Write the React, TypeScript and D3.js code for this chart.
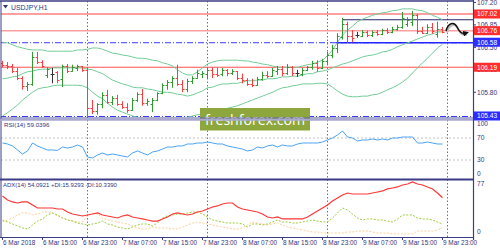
import React from 'react';
import * as d3 from 'd3';

// ---------- DATA (USDJPY H1, first bar = 6 Mar 07:00) ----------
const open = [106.26,106.23,106.21,106.13,106.02,105.90,105.93,106.35,106.27,106.07,
106.09,106.12,106.01,106.21,106.13,106.18,106.21,106.15,105.55,105.51,
105.62,105.76,105.65,105.71,105.62,105.57,105.52,105.68,105.77,105.63,
105.62,105.68,105.79,105.91,105.96,106.02,105.93,105.85,105.98,106.02,
106.09,106.09,106.15,106.09,106.09,106.15,106.10,106.13,106.02,105.99,
105.93,105.91,106.01,106.07,106.05,106.13,106.16,106.10,106.19,106.10,
106.09,106.15,106.19,106.26,106.18,106.29,106.38,106.49,106.66,106.86,
106.68,106.69,106.68,106.74,106.69,106.74,106.71,106.77,106.74,106.79,
106.82,106.86,106.90,107.00,106.76,106.72,106.82,106.71,106.79];
const high = [106.29,106.27,106.24,106.18,106.05,105.96,106.43,106.43,106.30,106.19,
106.18,106.13,106.23,106.24,106.23,106.23,106.21,106.19,105.68,105.63,
105.80,105.84,105.74,105.76,105.66,105.63,105.71,105.80,105.85,105.70,
105.71,105.80,105.94,105.99,106.05,106.23,105.99,106.01,106.05,106.15,
106.13,106.19,106.19,106.18,106.18,106.16,106.16,106.13,106.09,106.02,
106.01,106.04,106.12,106.13,106.18,106.21,106.21,106.24,106.21,106.15,
106.18,106.21,106.29,106.30,106.32,106.43,106.54,106.72,106.96,106.90,
106.77,106.74,106.77,106.76,106.76,106.77,106.79,106.80,106.82,106.85,
107.05,106.97,107.07,107.02,106.82,106.86,106.88,106.90,106.82];
const low = [106.19,106.16,106.10,105.99,105.84,105.82,105.90,106.24,106.18,106.02,
105.94,105.94,105.88,106.10,106.12,106.13,106.12,105.41,105.46,105.45,
105.55,105.62,105.60,105.59,105.54,105.48,105.51,105.65,105.59,105.59,
105.49,105.66,105.77,105.84,105.87,105.90,105.80,105.80,105.93,106.01,
106.02,106.02,106.02,106.04,106.05,106.05,106.07,105.99,105.94,105.90,
105.88,105.90,105.98,106.02,106.04,106.07,106.05,106.07,106.05,106.04,
106.05,106.13,106.15,106.12,106.16,106.24,106.33,106.41,106.62,106.57,
106.58,106.65,106.66,106.66,106.66,106.68,106.69,106.71,106.72,106.76,
106.79,106.82,106.83,106.71,106.71,106.71,106.71,106.65,106.72];
const close = [106.23,106.21,106.13,106.02,105.90,105.93,106.35,106.27,106.21,106.16,
106.09,105.99,106.21,106.13,106.19,106.21,106.15,105.55,105.51,105.62,
105.76,105.65,105.71,105.62,105.57,105.52,105.68,105.77,105.63,105.66,
105.68,105.79,105.91,105.96,106.02,105.93,105.85,105.98,106.02,106.10,
106.10,106.15,106.09,106.07,106.15,106.10,106.13,106.02,105.99,105.93,
105.91,106.01,106.07,106.05,106.15,106.16,106.10,106.19,106.10,106.10,
106.15,106.19,106.26,106.18,106.29,106.38,106.49,106.68,106.86,106.68,
106.65,106.69,106.74,106.69,106.74,106.71,106.77,106.74,106.79,106.82,
106.96,106.93,107.00,106.76,106.72,106.82,106.76,106.79,106.74];

const bbUpper = [106.58,106.57,106.54,106.51,106.49,106.47,106.46,106.46,106.46,106.44,
106.44,106.44,106.44,106.44,106.44,106.46,106.46,106.47,106.49,106.49,
106.47,106.44,106.41,106.40,106.38,106.37,106.35,106.33,106.33,106.32,
106.30,106.29,106.26,106.24,106.21,106.15,106.10,106.07,106.07,106.12,
106.18,106.24,106.27,106.29,106.30,106.30,106.30,106.30,106.29,106.29,
106.27,106.26,106.24,106.23,106.21,106.19,106.19,106.19,106.19,106.19,
106.21,106.23,106.24,106.27,106.30,106.37,106.46,106.58,106.69,106.77,
106.83,106.90,106.94,106.97,107.00,107.02,107.04,107.05,107.07,107.08,
107.10,107.10,107.10,107.08,107.07,107.04,107.00,106.97,106.93];
const bbMiddle = [106.01,106.02,106.04,106.05,106.09,106.12,106.13,106.15,106.16,106.16,
106.18,106.18,106.18,106.18,106.18,106.18,106.18,106.16,106.15,106.12,
106.09,106.04,105.99,105.96,105.93,105.91,105.88,105.87,105.87,105.85,
105.84,105.82,105.80,105.80,105.79,105.77,105.76,105.74,105.76,105.79,
105.82,105.87,105.88,105.91,105.93,105.93,105.94,105.94,105.96,105.98,
105.98,105.99,105.99,106.01,106.01,106.02,106.04,106.04,106.05,106.05,
106.07,106.09,106.09,106.12,106.13,106.15,106.18,106.21,106.24,106.26,
106.29,106.32,106.35,106.37,106.38,106.40,106.43,106.44,106.47,106.51,
106.54,106.57,106.60,106.63,106.66,106.69,106.71,106.74,106.74];
const bbLower = [105.43,105.48,105.54,105.60,105.68,105.74,105.80,105.85,105.87,105.88,
105.90,105.91,105.91,105.91,105.91,105.91,105.90,105.87,105.80,105.74,
105.70,105.63,105.57,105.52,105.49,105.46,105.43,105.41,105.40,105.38,
105.37,105.35,105.35,105.35,105.37,105.38,105.40,105.41,105.43,105.45,
105.46,105.48,105.49,105.52,105.54,105.55,105.57,105.59,105.62,105.65,
105.68,105.71,105.74,105.77,105.80,105.84,105.87,105.88,105.90,105.91,
105.93,105.93,105.93,105.94,105.94,105.93,105.88,105.82,105.77,105.74,
105.73,105.73,105.74,105.74,105.76,105.77,105.80,105.84,105.87,105.91,
105.96,106.02,106.10,106.18,106.26,106.33,106.41,106.49,106.55];

const rsi = [60.9,59.1,55.5,48.2,40.9,46.4,60.9,55.5,51.8,48.2,
48.2,47.5,53.6,51.8,53.6,57.3,53.6,35.5,33.6,39.1,
42.7,39.1,40.9,39.1,37.3,35.5,42.7,46.4,42.7,39.1,
44.5,46.4,50.0,53.6,53.6,55.5,55.5,59.1,59.1,60.9,
60.9,62.7,60.9,59.1,59.1,55.5,53.6,51.8,50.0,46.4,
48.2,53.6,51.8,55.5,57.3,53.6,57.3,55.5,55.5,59.1,
60.9,60.9,60.9,60.9,62.7,66.4,70.0,75.5,82.7,71.8,
70.0,64.5,66.4,66.4,68.2,66.4,68.2,66.4,70.0,70.0,
71.8,71.8,71.8,60.9,60.9,62.7,60.9,59.1,59.04];

const adx = [56.7,50.9,48.0,46.5,48.0,48.0,43.6,39.2,39.2,39.2,
39.2,37.8,37.8,33.4,30.5,29.1,27.6,29.1,30.5,32.0,
29.1,27.6,26.2,24.7,27.6,29.1,26.2,24.7,23.3,21.8,
20.3,20.3,23.3,26.2,30.5,32.0,30.5,29.1,30.5,33.4,
34.9,37.8,40.7,42.2,45.1,46.5,46.5,40.7,37.8,36.3,
34.9,33.4,30.5,26.2,24.7,26.2,23.3,23.3,23.3,23.3,
23.3,26.2,30.5,34.9,39.2,43.6,49.4,53.8,58.1,61.0,
59.6,59.6,59.6,59.6,61.0,62.5,64.0,66.9,68.3,69.8,
72.7,74.1,77.0,74.1,72.7,69.8,66.9,61.0,54.09];
const plusDI = [21.8,18.9,16.0,13.1,10.2,8.7,14.5,20.3,23.3,29.1,
32.0,29.1,24.7,21.8,20.3,17.4,16.0,14.5,16.0,17.4,
20.3,16.0,14.5,11.6,10.2,8.7,11.6,14.5,16.0,16.0,
13.1,17.4,24.7,27.6,29.1,30.5,30.5,32.0,33.4,33.4,
30.5,26.2,21.8,20.3,18.9,17.4,17.4,17.4,16.0,11.6,
16.0,16.0,14.5,16.0,18.9,21.8,18.9,18.9,17.4,17.4,
18.9,20.3,21.8,20.3,18.9,18.9,24.7,32.0,39.2,36.3,
30.5,24.7,21.8,23.3,23.3,21.8,21.8,20.3,18.9,23.3,
29.1,29.1,29.1,24.7,23.3,23.3,21.8,18.9,15.93];
const minusDI = [18.9,21.8,24.7,29.1,32.0,32.0,29.1,30.5,33.4,33.4,
32.0,27.6,24.7,21.8,20.3,18.9,18.9,27.6,32.0,30.5,
24.7,21.8,20.3,18.9,17.4,16.0,13.1,10.2,8.7,8.7,
11.6,10.2,10.2,10.2,8.7,8.7,11.6,14.5,17.4,18.9,
17.4,16.0,14.5,13.1,11.6,10.2,8.7,8.7,10.2,14.5,
18.9,17.4,16.0,14.5,16.0,17.4,14.5,11.6,10.2,8.7,
7.3,5.8,4.4,4.4,2.9,2.9,2.9,2.9,2.9,4.4,
4.4,5.8,5.8,5.8,4.4,2.9,2.9,2.9,1.5,1.5,
1.5,1.5,1.5,5.8,5.8,5.8,5.8,7.3,10.34];

const priceTicks = [107.20, 106.85, 106.50, 106.15, 105.80];
const redLevels = [107.02, 106.76, 106.19];
const blueLevels = [106.58, 105.43];
const rectTop = 106.93;
const rectBottom = 106.58;
const rectStartBar = 68;
const rsiTicks = [100, 70, 30, 0];
const rsiLevels = [70, 30];
const adxTicks = [77, 0];
const timeLabels = ['6 Mar 2018','6 Mar 15:00','6 Mar 23:00','7 Mar 07:00','7 Mar 15:00','7 Mar 23:00','8 Mar 07:00','8 Mar 15:00','8 Mar 23:00','9 Mar 07:00','9 Mar 15:00','9 Mar 23:00'];
const timeLabelBars = [0, 8, 16, 24, 32, 40, 48, 56, 64, 72, 80, 88];
const daySeparatorBars = [17, 41, 65, 89];

// ---------- LAYOUT ----------
const AXIS_X = 473;
const MAIN_TOP = 1, MAIN_BOT = 117;
const RSI_TOP = 121, RSI_BOT = 178;
const ADX_TOP = 181, ADX_BOT = 237;
const NAVY = '#3c3c86';
const TXT = '#34347c';
const FONT = "'Liberation Sans', Arial, sans-serif";

const x = d3.scaleLinear().domain([0, 88]).range([2, 442]);
const yP = d3.scaleLinear().domain([105.43, 107.02]).range([116, 14]);
const yR = d3.scaleLinear().domain([0, 100]).range([176.5, 121.5]);
const yA = d3.scaleLinear().domain([0, 77]).range([235, 182]);

const GREEN = '#2f9a2f';
const RED = '#ff3b3b';
const DOJI = '#333333';

function lineOf(vals: number[], scale: (v: number) => number) {
  return d3.line<number>().x((_, i) => x(i) + 0.5).y(v => scale(v)).curve(d3.curveLinear)(vals) || '';
}

export default function App() {
  const bars = open.map((o, i) => {
    const c = close[i];
    const col = c > o ? GREEN : c < o ? RED : DOJI;
    const xi = x(i) + 0.5;
    return (
      <g key={i} stroke={col} strokeWidth={1}>
        <line x1={xi} x2={xi} y1={yP(high[i])} y2={yP(low[i])} />
        <line x1={xi - 2} x2={xi} y1={Math.round(yP(o)) + 0.5} y2={Math.round(yP(o)) + 0.5} />
        <line x1={xi} x2={xi + 2} y1={Math.round(yP(c)) + 0.5} y2={Math.round(yP(c)) + 0.5} />
      </g>
    );
  });

  const bbColor = '#74cc98';
  const redStyles = [
    { stroke: '#ff9f9f', w: 2 },
    { stroke: '#ff9f9f', w: 1.6 },
    { stroke: '#ff5050', w: 1 },
  ];

  const xRectStart = x(rectStartBar);

  return (
    <svg width={500} height={250} style={{ position: 'absolute', left: 0, top: 0, background: '#ffffff' }} fontFamily={FONT}>
      <defs>
        <clipPath id="clipMain"><rect x={1} y={MAIN_TOP} width={AXIS_X - 1} height={MAIN_BOT - MAIN_TOP} /></clipPath>
        <clipPath id="clipRsi"><rect x={1} y={RSI_TOP} width={AXIS_X - 1} height={RSI_BOT - RSI_TOP} /></clipPath>
        <clipPath id="clipAdx"><rect x={1} y={ADX_TOP} width={AXIS_X - 1} height={ADX_BOT - ADX_TOP} /></clipPath>
        <marker id="ah" markerWidth="6" markerHeight="6" refX="3" refY="3" orient="auto" markerUnits="userSpaceOnUse">
          <path d="M0,0 L6,3 L0,6 Z" fill="#111" />
        </marker>
      </defs>
      <rect x={0} y={0} width={500} height={250} fill="#fff" />

      {/* vertical day separators */}
      {daySeparatorBars.map(b => (
        <line key={b} x1={x(b) + 0.5} x2={x(b) + 0.5} y1={1} y2={ADX_BOT} stroke="#6a6ac4" strokeWidth={1} strokeDasharray="1.5 2" />
      ))}

      {/* main panel */}
      <g clipPath="url(#clipMain)">
        {redLevels.map((p, k) => (
          <line key={p} x1={0} x2={AXIS_X} y1={yP(p)} y2={yP(p)} stroke={redStyles[k].stroke} strokeWidth={redStyles[k].w} />
        ))}
        {blueLevels.map(p => (
          <line key={p} x1={0} x2={AXIS_X} y1={yP(p) + 0.5} y2={yP(p) + 0.5} stroke="#3a3aff" strokeWidth={1} strokeDasharray="6 2 1 2" />
        ))}
        <line x1={xRectStart} x2={AXIS_X} y1={yP(rectTop)} y2={yP(rectTop)} stroke="#26266a" strokeWidth={1.2} />
        <line x1={xRectStart - 6} x2={AXIS_X} y1={yP(rectBottom) + 0.5} y2={yP(rectBottom) + 0.5} stroke="#2626ff" strokeWidth={1.6} />
        <path d={lineOf(bbUpper, yP)} fill="none" stroke={bbColor} strokeWidth={1} />
        <path d={lineOf(bbMiddle, yP)} fill="none" stroke={bbColor} strokeWidth={1} />
        <path d={lineOf(bbLower, yP)} fill="none" stroke={bbColor} strokeWidth={1} />
        {bars}
      </g>

      {/* forecast arrow */}
      <path d="M446,31 C448,23 454,21 457,27 S462,34 466,33" fill="none" stroke="#bbb" strokeWidth={2} transform="translate(1,1.5)" />
      <path d="M446,31 C448,23 454,21 457,27 S462,34 466,33" fill="none" stroke="#111" strokeWidth={1.5} markerEnd="url(#ah)" />

      {/* title */}
      <path d="M3,5 L8,5 L5.5,8.5 Z" fill={TXT} />
      <text x={11} y={9.5} fontSize={6.8} fill={TXT}>USDJPY,H1</text>

      {/* RSI panel */}
      {rsiLevels.map(v => (
        <line key={v} x1={1} x2={AXIS_X} y1={yR(v)} y2={yR(v)} stroke="#c4c4c4" strokeWidth={1} strokeDasharray="2 2" />
      ))}
      <g clipPath="url(#clipRsi)">
        <path d={lineOf(rsi, yR)} fill="none" stroke="#4aa2f5" strokeWidth={1} />
      </g>
      <text x={4} y={127} fontSize={6.2} fill={TXT}>RSI(14) 59.0396</text>

      {/* ADX panel */}
      <g clipPath="url(#clipAdx)">
        <path d={lineOf(minusDI, yA)} fill="none" stroke="#ffcf9c" strokeWidth={1} strokeDasharray="2 1.5" />
        <path d={lineOf(plusDI, yA)} fill="none" stroke="#9ccc3c" strokeWidth={1} strokeDasharray="2 1.5" />
        <path d={lineOf(adx, yA)} fill="none" stroke="#ff3636" strokeWidth={1.2} />
      </g>
      <text x={3} y={187} fontSize={6} fill={TXT}>ADX(14) 54.0921 +DI:15.9293 -DI:10.3390</text>

      {/* watermark */}
      <rect x={200} y={108} width={110} height={22.5} fill="#8da73d" />
      <text x={205} y={125} fontSize={15} fill="#ffffff" fontFamily="'Open Sans', 'DejaVu Sans', sans-serif" textLength={100} lengthAdjust="spacingAndGlyphs">freshforex.com</text>

      {/* frame & separators */}
      <line x1={0} x2={AXIS_X} y1={1} y2={1} stroke={NAVY} strokeWidth={1.4} />
      <line x1={1} x2={1} y1={1} y2={ADX_BOT} stroke={NAVY} strokeWidth={1} />
      <line x1={AXIS_X + 0.5} x2={AXIS_X + 0.5} y1={0} y2={ADX_BOT + 3} stroke={NAVY} strokeWidth={1.2} />
      <line x1={0} x2={AXIS_X} y1={118} y2={118} stroke="#5a5aa8" strokeWidth={1} />
      <line x1={0} x2={AXIS_X} y1={119.8} y2={119.8} stroke="#a8a8d0" strokeWidth={2} />
      <line x1={0} x2={AXIS_X} y1={179.5} y2={179.5} stroke={NAVY} strokeWidth={2} />
      <line x1={0} x2={AXIS_X} y1={ADX_BOT + 0.5} y2={ADX_BOT + 0.5} stroke={NAVY} strokeWidth={1} />

      {/* price axis */}
      {priceTicks.map(p => (
        <g key={p}>
          <line x1={AXIS_X} x2={AXIS_X + 3} y1={yP(p)} y2={yP(p)} stroke={NAVY} />
          <text x={477} y={yP(p) + 2.4} fontSize={6.6} fill={TXT}>{p.toFixed(2)}</text>
        </g>
      ))}
      {redLevels.map(p => (
        <g key={'r' + p}>
          <rect x={474} y={yP(p) - 4.5} width={26} height={9} fill="#ff2d2d" />
          <text x={477} y={yP(p) + 2.4} fontSize={6.6} fill="#fff">{p.toFixed(2)}</text>
        </g>
      ))}
      {blueLevels.map(p => (
        <g key={'b' + p}>
          <rect x={474} y={yP(p) - 4.5} width={26} height={9} fill="#2d2dff" />
          <text x={477} y={yP(p) + 2.4} fontSize={6.6} fill="#fff">{p.toFixed(2)}</text>
        </g>
      ))}

      {/* RSI axis */}
      {rsiTicks.map(v => {
        const yy = Math.min(Math.max(yR(v), 123.5), 174);
        return <text key={v} x={477} y={yy + 2.4} fontSize={6.6} fill={TXT}>{v}</text>;
      })}
      {/* ADX axis */}
      {adxTicks.map(v => {
        const yy = Math.min(Math.max(yA(v), 184), 232);
        return <text key={v} x={477} y={yy + 2.4} fontSize={6.6} fill={TXT}>{v}</text>;
      })}

      {/* time axis */}
      {timeLabels.map((t, k) => (
        <g key={t}>
          <line x1={x(timeLabelBars[k]) + 0.5} x2={x(timeLabelBars[k]) + 0.5} y1={ADX_BOT} y2={ADX_BOT + 3} stroke={NAVY} />
          <text x={x(timeLabelBars[k]) + 1} y={244.5} fontSize={6.4} fill={TXT}>{t}</text>
        </g>
      ))}
    </svg>
  );
}
